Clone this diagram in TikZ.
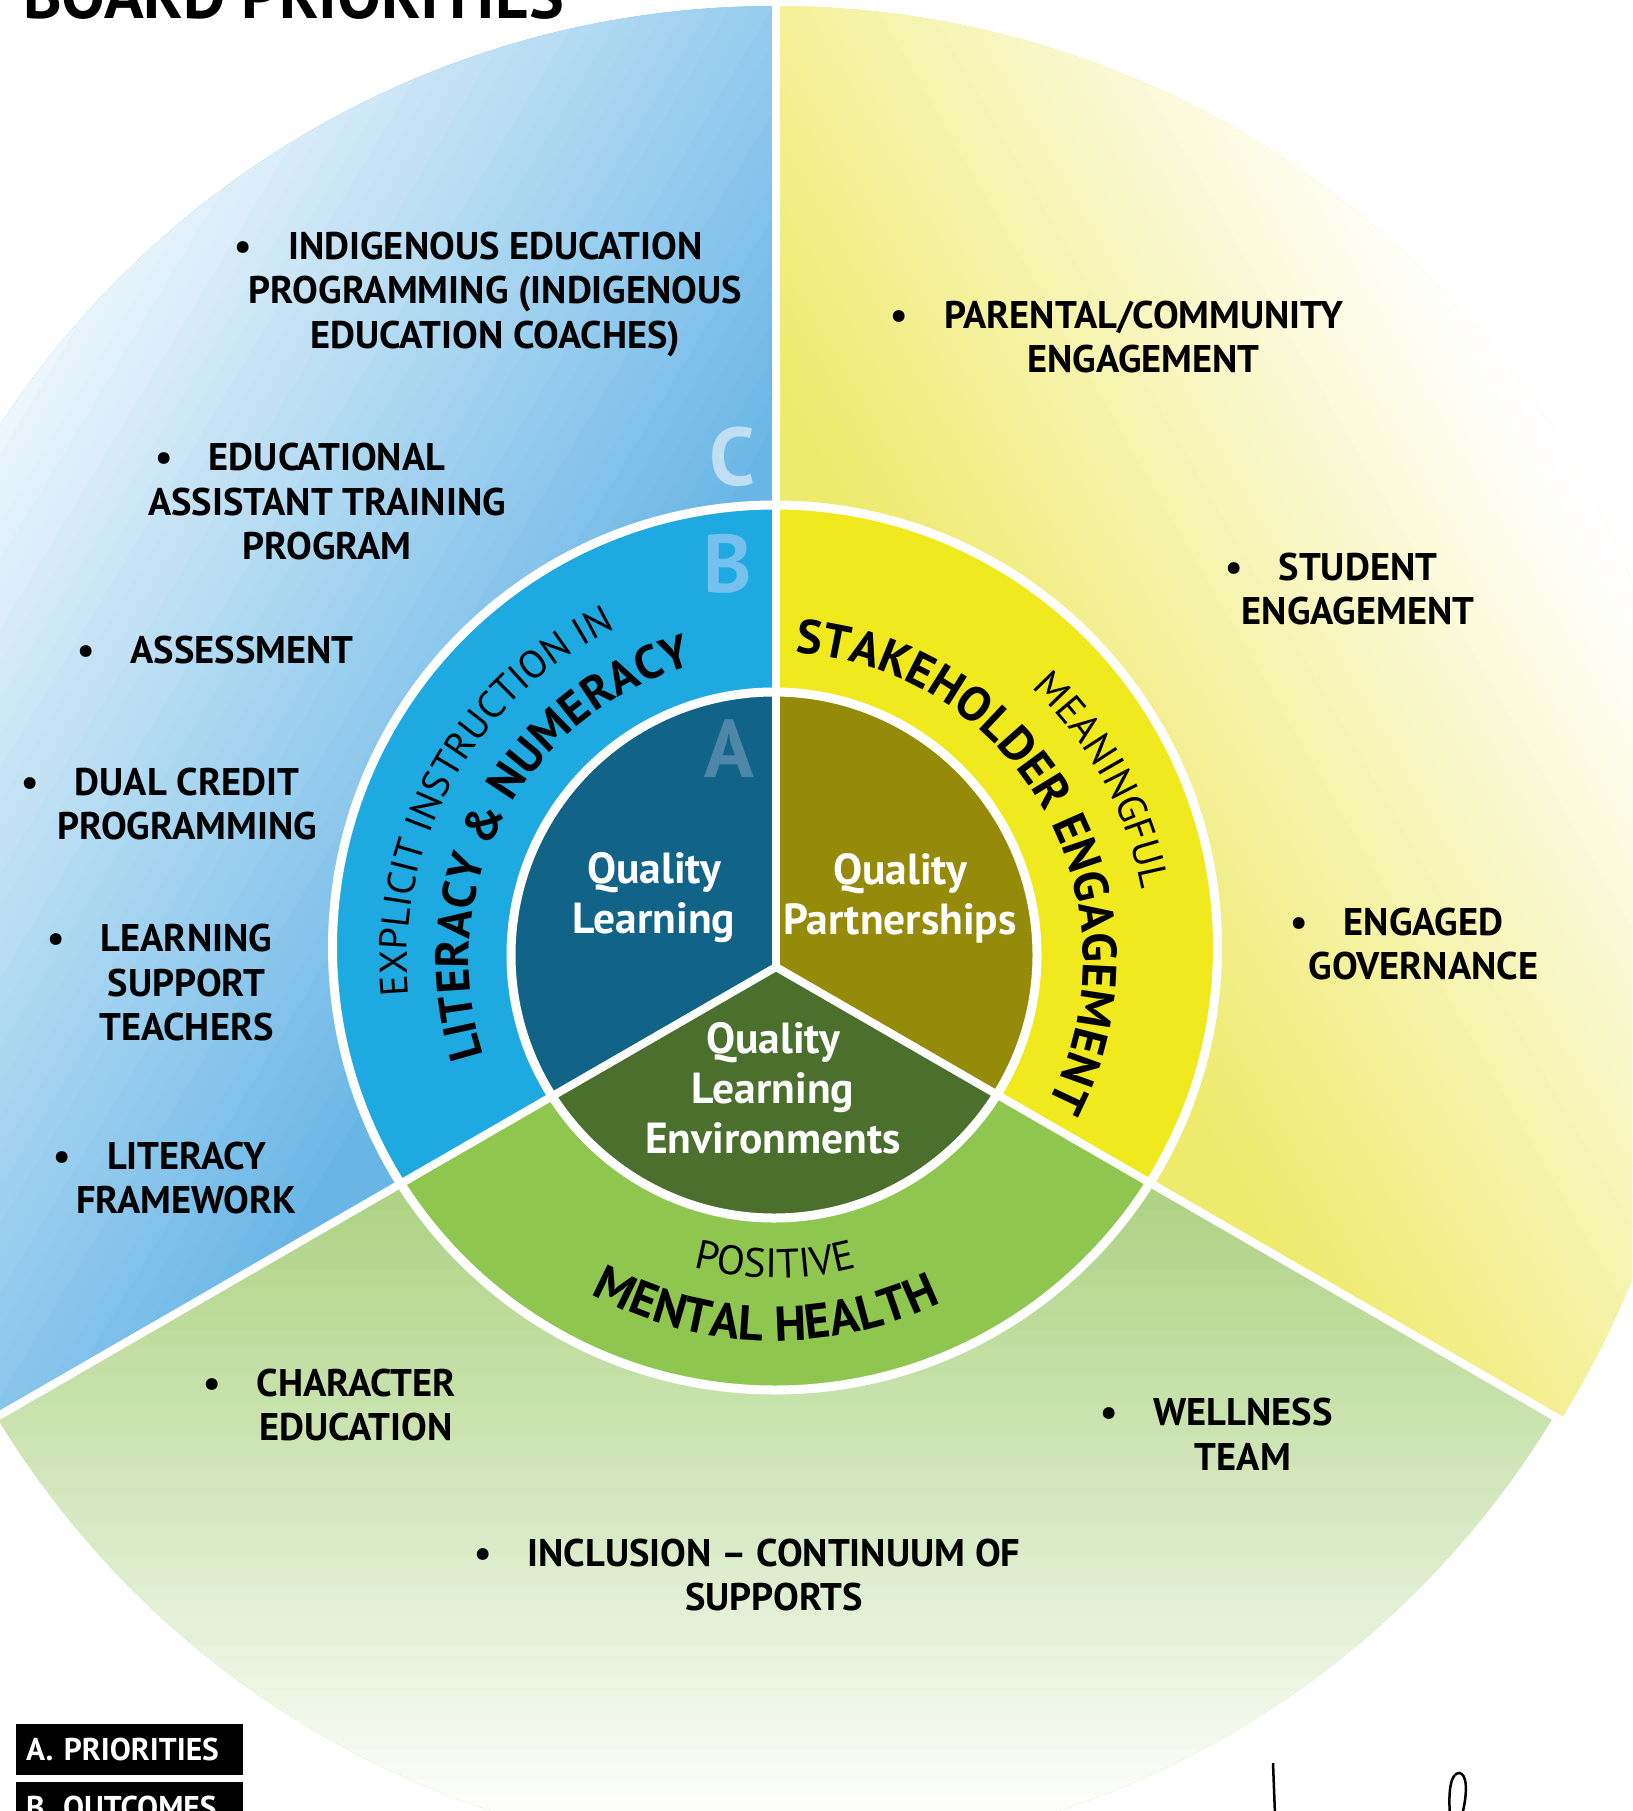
\documentclass[tikz,border=0pt]{standalone}
\usepackage{fontspec}
\setmainfont{PT Sans}
\usetikzlibrary{calc,decorations.text}
\definecolor{aBlue}{HTML}{116488}
\definecolor{aOlive}{HTML}{968A0A}
\definecolor{aGreen}{HTML}{4B702E}
\definecolor{bBlue}{HTML}{1EAAE0}
\definecolor{bYellow}{HTML}{F0E91E}
\definecolor{bGreen}{HTML}{8FC64F}
\definecolor{cBlue}{HTML}{69B6E6}
\definecolor{cYellow}{HTML}{EEEA6C}
\definecolor{cGreen}{HTML}{ACD282}
\definecolor{letA}{HTML}{4F87A9}
\definecolor{letB}{HTML}{74C1ED}
\definecolor{letC}{HTML}{C0DFF3}
\tikzset{
  item/.style={font=\bfseries\fontsize{38.5}{44.5}\selectfont, align=center, inner sep=0pt},
  innerlabel/.style={font=\bfseries\fontsize{43.5}{50}\selectfont, text=white, align=center, inner sep=0pt},
  ringletter/.style={font=\bfseries\fontsize{82}{82}\selectfont, inner sep=0pt},
  spoke/.style={white, line width=8pt},
  ringsep/.style={white, line width=9pt},
  legendbox/.style={fill=black, text=white, font=\bfseries\fontsize{31.5}{31.5}\selectfont, anchor=north west, text width=207pt, inner xsep=10pt, inner ysep=0pt, minimum height=51pt, align=left},
  arctext/.style={decorate, decoration={text along path, text align=center, text={#1}}}
}
\newcommand{\bul}{\llap{\textbullet\hspace{36pt}}}
\newcommand{\wedgeL}{(J) -- ($(J)+(90:3000)$) -- ($(J)+(150:3000)$) -- ($(J)+(210:3000)$) -- cycle}
\newcommand{\wedgeR}{(J) -- ($(J)+(90:3000)$) -- ($(J)+(30:3000)$) -- ($(J)+(-30:3000)$) -- cycle}
\newcommand{\wedgeB}{(J) -- ($(J)+(210:3000)$) -- ($(J)+(270:3000)$) -- ($(J)+(330:3000)$) -- cycle}
\begin{document}
\begin{tikzpicture}[x=1pt,y=1pt]
\useasboundingbox (0,0) rectangle (1632,-1811);
\clip (0,0) rectangle (1632,-1811);
\coordinate (J) at (776,-967);
\coordinate (Bc) at (775,-947.5);
\coordinate (Ac) at (774,-955);
\coordinate (T) at (775,-960);
\coordinate (eTop) at (776,0);
\coordinate (eLeft) at ($(J)+(210:905)$);
\coordinate (eRight) at ($(J)+(330:912)$);

% ---------- outer ring C ----------
\begin{scope}
  \clip \wedgeL;
  \clip (775,-932) circle[radius=926];
  \fill[cBlue] (-10,10) rectangle (1642,-1821);
  \begin{scope}[rotate=149]
    \foreach \i in {0,...,43}{
      \pgfmathsetmacro\u{-900+\i*18}
      \pgfmathtruncatemacro\pc{100-\i*100/43}
      \fill[cBlue!\pc!white] (\u,-4000) rectangle ({\u+19},4000);
    }
    \fill[white] (-108,-4000) rectangle (4000,4000);
  \end{scope}
\end{scope}
\begin{scope}
  \clip \wedgeR;
  \clip (775,-931) circle[radius=925];
  \fill[cYellow] (-10,10) rectangle (1642,-1821);
  \begin{scope}[rotate=30]
    \foreach \i in {0,...,43}{
      \pgfmathsetmacro\u{470+\i*15}
      \pgfmathtruncatemacro\pc{100-\i*100/43}
      \fill[cYellow!\pc!white] (\u,-4000) rectangle ({\u+16},4000);
    }
    \fill[white] (1130,-4000) rectangle (5000,4000);
  \end{scope}
\end{scope}
\begin{scope}
  \clip \wedgeB;
  \clip (775,-947) circle[radius=909];
  \fill[cGreen] (-10,10) rectangle (1642,-1821);
  \foreach \i in {0,...,43}{
    \pgfmathsetmacro\v{-1180-\i*15}
    \pgfmathtruncatemacro\pc{100-\i*100/43}
    \fill[cGreen!\pc!white] (-10,\v) rectangle (1642,{\v-16});
  }
\end{scope}

% ---------- ring B ----------
\begin{scope}\clip \wedgeL; \fill[bBlue] (Bc) circle[radius=442.5];\end{scope}
\begin{scope}\clip \wedgeR; \fill[bYellow] (Bc) circle[radius=442.5];\end{scope}
\begin{scope}\clip \wedgeB; \fill[bGreen] (Bc) circle[radius=442.5];\end{scope}
% ---------- core A ----------
\begin{scope}\clip \wedgeL; \fill[aBlue] (Ac) circle[radius=263];\end{scope}
\begin{scope}\clip \wedgeR; \fill[aOlive] (Ac) circle[radius=263];\end{scope}
\begin{scope}\clip \wedgeB; \fill[aGreen] (Ac) circle[radius=263];\end{scope}

% ---------- white separators ----------
\draw[ringsep] (Bc) circle[radius=442.5];
\draw[ringsep] (Ac) circle[radius=263];
\draw[spoke] (J) -- (eTop);
\draw[spoke] (J) -- (eLeft);
\draw[spoke] (J) -- (eRight);

% ---------- ring letters ----------
\node[ringletter, text=letC] (lC) at (732,-457) {C};
\node[ringletter, text=letB] (lB) at (727.5,-563.5) {B};
\node[ringletter, text=letA] (lA) at (729,-749) {A};

% ---------- core labels ----------
\node[innerlabel] (qL) at (654,-898) {Quality\\Learning};
\node[innerlabel] (qP) at (900,-898) {Quality\\Partnerships};
\node[innerlabel] (qE) at (773,-1088) {Quality\\Learning\\Environments};

% ---------- curved ring texts ----------
\path[arctext={|\fontsize{39}{39}\selectfont|EXPLICIT INSTRUCTION IN}]
  ($(T)+(210.6:368)$) arc[start angle=210.6, end angle=90.6, radius=368];
\path[arctext={|\bfseries\fontsize{47}{47}\selectfont|LITERACY {\&} NUMERACY}]
  ($(T)+(221.8:306)$) arc[start angle=221.8, end angle=81.8, radius=306];
\path[arctext={|\bfseries\fontsize{48}{48}\selectfont|STAKEHOLDER ENGAGEMENT}]
  ($(T)+(104.2:308)$) arc[start angle=104.2, end angle=-45.8, radius=308];
\path[arctext={|\fontsize{40}{40}\selectfont|MEANINGFUL}]
  ($(T)+(68.8:374)$) arc[start angle=68.8, end angle=-11.2, radius=374];
\path[arctext={|\fontsize{41}{41}\selectfont|POSITIVE}]
  ($(T)+(235:318)$) arc[start angle=235, end angle=305, radius=318];
\path[arctext={|\bfseries\fontsize{49}{49}\selectfont|MENTAL HEALTH}]
  ($(T)+(218.5:381)$) arc[start angle=218.5, end angle=318.5, radius=381];

% ---------- outer items ----------
\node[item] (i1) at (495.5,-294) {\bul INDIGENOUS EDUCATION\\PROGRAMMING (INDIGENOUS\\EDUCATION COACHES)};
\node[item] (i2) at (327,-502) {\bul EDUCATIONAL\\ASSISTANT TRAINING\\PROGRAM};
\node[item] (i3) at (242,-650) {\bul ASSESSMENT};
\node[item] (i4) at (187,-804) {\bul DUAL CREDIT\\PROGRAMMING};
\node[item] (i5) at (186.5,-983) {\bul LEARNING\\SUPPORT\\TEACHERS};
\node[item] (i6) at (186.5,-1178) {\bul LITERACY\\FRAMEWORK};
\node[item] (i7) at (1143.5,-337) {\bul PARENTAL/COMMUNITY\\ENGAGEMENT};
\node[item] (i8) at (1358,-589) {\bul STUDENT\\ENGAGEMENT};
\node[item] (i9) at (1423.5,-944) {\bul ENGAGED\\GOVERNANCE};
\node[item] (i10) at (356,-1405) {\bul CHARACTER\\EDUCATION};
\node[item] (i11) at (1243,-1434) {\bul WELLNESS\\TEAM};
\node[item] (i12) at (774,-1575) {\bul INCLUSION – CONTINUUM OF\\SUPPORTS};

% ---------- title and legend ----------
\node[anchor=base west, inner sep=0pt, font=\bfseries\fontsize{65.5}{65.5}\selectfont] (title) at (23,-19) {BOARD PRIORITIES};
\node[legendbox] (legA) at (16,-1724) {A. PRIORITIES};
\node[legendbox] (legB) at (16,-1782) {B. OUTCOMES};

% ---------- signature strokes ----------
\draw[line width=2.5pt] (1273,-1763) -- (1275,-1815);
\draw[line width=2.5pt] (1450,-1815) .. controls (1448,-1790) and (1451,-1773) .. (1459,-1773)
  .. controls (1467,-1773) and (1468,-1792) .. (1462,-1815);
\end{tikzpicture}
\end{document}
